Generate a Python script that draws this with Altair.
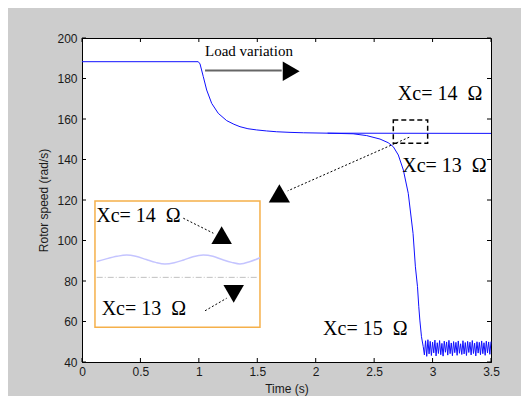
import altair as alt
import pandas as pd

# ---- data ----
t14 = [0, 0.995, 1.01, 1.038, 1.067, 1.11, 1.166, 1.238, 1.30, 1.352, 1.42, 1.495, 1.58, 1.666, 1.78, 1.894, 2.1, 3.5]
s14 = [188.3, 188.3, 187.2, 180.9, 174.3, 167.7, 162.8, 159.2, 157.4, 156.2, 155.2, 154.6, 154.1, 153.7, 153.4, 153.2, 153.0, 152.9]

t15 = [2.1, 2.32, 2.436, 2.55, 2.62, 2.664, 2.707, 2.75, 2.792, 2.833, 2.853, 2.871, 2.882, 2.891, 2.905, 2.92,
       2.93, 2.94, 2.95, 2.96, 2.97, 2.98, 2.99, 3.00, 3.01, 3.02, 3.03, 3.04, 3.05, 3.06, 3.07, 3.08, 3.09, 3.10,
       3.11, 3.12, 3.13, 3.14, 3.15, 3.16, 3.17, 3.18, 3.19, 3.20, 3.21, 3.22, 3.23, 3.24, 3.25, 3.26, 3.27, 3.28,
       3.29, 3.30, 3.31, 3.32, 3.33, 3.34, 3.35, 3.36, 3.37, 3.38, 3.39, 3.40, 3.41, 3.42, 3.43, 3.44, 3.45, 3.46,
       3.47, 3.48, 3.49, 3.50]
s15 = [153.0, 152.7, 151.8, 150.1, 148.3, 146.3, 142.2, 134.8, 123.3, 103.5, 87.0, 77.2, 67.3, 60.7, 52.5, 47.6,
       43.5, 50.5, 42.8, 51.0, 44.0, 50.2, 43.2, 49.8, 44.5, 50.8, 43.0, 49.5, 44.2, 50.6, 43.6, 49.2, 42.9, 50.3,
       44.8, 49.9, 43.4, 50.7, 44.1, 49.4, 43.1, 50.1, 44.6, 49.7, 43.3, 50.4, 44.3, 49.0, 43.7, 50.5, 44.0, 49.6,
       43.2, 50.2, 44.7, 49.8, 43.5, 50.6, 44.2, 49.3, 43.0, 50.0, 44.4, 49.7, 43.6, 50.4, 44.1, 49.5, 43.3, 50.3,
       44.5, 49.9, 43.8, 50.1]

# inset curves
t_wave = [0.126, 0.2, 0.3, 0.382, 0.46, 0.55, 0.63, 0.71, 0.79, 0.87, 0.95, 1.038, 1.12, 1.2, 1.28, 1.352, 1.44, 1.523]
s_wave = [89.6, 90.8, 92.2, 92.8, 92.2, 90.6, 89.2, 88.4, 89.0, 90.4, 92.0, 92.8, 92.2, 90.6, 89.2, 88.4, 89.6, 91.5]
t_dash = [0.126, 1.5]
s_dash = [81.8, 81.8]

x_ticks = [0, 0.5, 1, 1.5, 2, 2.5, 3, 3.5]
y_ticks = [40, 60, 80, 100, 120, 140, 160, 180, 200]

labels_txt = ["Load variation", "Xc= 14 \u00a0\u03a9", "Xc= 13 \u00a0\u03a9", "Xc= 15 \u00a0\u03a9",
              "Xc= 14 \u00a0\u03a9", "Xc= 13 \u00a0\u03a9"]
labels_t = [1.053, 2.703, 2.740, 2.063, 0.122, 0.168]
labels_s = [191.3, 169.4, 134.0, 53.3, 109.3, 63.2]
labels_size = [15, 20, 20, 20, 20, 20]

W, H = 409, 324
xs = alt.Scale(domain=[0, 3.5], nice=False, zero=False)
ys = alt.Scale(domain=[40, 200], nice=False, zero=False)

X = lambda f: alt.X(f, type="quantitative", scale=xs)
Y = lambda f: alt.Y(f, type="quantitative", scale=ys)

base_axes = alt.Chart(pd.DataFrame({"t": t14, "s": s14})).mark_line(color="#1010ff", strokeWidth=1).encode(
    x=alt.X("t:Q", scale=xs, title="Time (s)",
            axis=alt.Axis(values=x_ticks, ticks=False, tickSize=0, labelPadding=4, labelFlush=False,
                          labelOverlap=False, grid=False, titleY=26, titleBaseline="middle",
                          labelExpr="datum.value")),
    y=alt.Y("s:Q", scale=ys, title="Rotor speed (rad/s)",
            axis=alt.Axis(values=y_ticks, ticks=False, tickSize=0, labelPadding=5, labelFlush=False,
                          labelOverlap=False, grid=False, titleX=-39, titleBaseline="middle")),
)

line15 = alt.Chart(pd.DataFrame({"t": t15, "s": s15})).mark_line(color="#1010ff", strokeWidth=1).encode(
    x=X("t"), y=Y("s"))

# ticks inside the box
xt = pd.DataFrame({"t": x_ticks})
yt = pd.DataFrame({"s": y_ticks})
tick_b = alt.Chart(xt).mark_rule(color="black").encode(x=X("t"), y=alt.value(H), y2=alt.value(H - 4))
tick_t = alt.Chart(xt).mark_rule(color="black").encode(x=X("t"), y=alt.value(0), y2=alt.value(4))
tick_l = alt.Chart(yt).mark_rule(color="black").encode(y=Y("s"), x=alt.value(0), x2=alt.value(4))
tick_r = alt.Chart(yt).mark_rule(color="black").encode(y=Y("s"), x=alt.value(W), x2=alt.value(W - 4))

# dashed zoom box
box = alt.Chart(pd.DataFrame({"t": [2.664], "t2": [2.958], "s": [148.0], "s2": [159.5]})).mark_rect(
    fill=None, stroke="black", strokeWidth=1.5, strokeDash=[5, 3]).encode(
    x=X("t"), x2="t2", y=Y("s"), y2="s2")

# inset box
inset = alt.Chart(pd.DataFrame({"t": [0.111], "t2": [1.523], "s": [57.1], "s2": [119.5]})).mark_rect(
    fill="white", stroke="#f5b04a", strokeWidth=1.5).encode(
    x=X("t"), x2="t2", y=Y("s"), y2="s2")

wave = alt.Chart(pd.DataFrame({"t": t_wave, "s": s_wave})).mark_line(
    color="#c4c4ff", strokeWidth=1.5, interpolate="monotone").encode(x=X("t"), y=Y("s"))
dashl = alt.Chart(pd.DataFrame({"t": t_dash, "s": s_dash})).mark_line(
    color="#c0c0c0", strokeWidth=1, strokeDash=[6, 2, 1, 2]).encode(x=X("t"), y=Y("s"))

# arrow shafts
shafts = pd.DataFrame({
    "t": [2.80, 0.867, 1.053], "t2": [1.76, 1.124, 1.238],
    "s": [151.0, 111.0, 65.3], "s2": [124.5, 103.6, 71.5]})
shaft = alt.Chart(shafts).mark_rule(color="black", strokeWidth=1, strokeDash=[2, 2]).encode(
    x=X("t"), x2="t2", y=Y("s"), y2="s2")
load_shaft = alt.Chart(pd.DataFrame({"t": [1.053], "t2": [1.709], "s": [183.9]})).mark_rule(
    color="#666666", strokeWidth=2).encode(x=X("t"), x2="t2", y=Y("s"))

heads = pd.DataFrame({
    "t": [1.689, 1.195, 1.298, 1.79],
    "s": [123.3, 102.7, 73.6, 183.6],
    "shape": ["triangle-up", "triangle-up", "triangle-down", "triangle-right"],
    "size": [450, 420, 420, 380]})
head = alt.Chart(heads).mark_point(filled=True, color="black", opacity=1, strokeWidth=0).encode(
    x=X("t"), y=Y("s"),
    shape=alt.Shape("shape:N", scale=None),
    size=alt.Size("size:Q", scale=None))

texts = pd.DataFrame({"txt": labels_txt, "t": labels_t, "s": labels_s, "fs": labels_size})
text = alt.Chart(texts).mark_text(align="left", baseline="alphabetic", font="Liberation Serif",
                                  color="black", clip=True).encode(
    x=X("t"), y=Y("s"), text="txt:N", size=alt.Size("fs:Q", scale=None))

chart = alt.layer(
    base_axes, line15, inset, wave, dashl, box, shaft, load_shaft, head, text,
    tick_b, tick_t, tick_l, tick_r
).properties(
    width=W, height=H, background="#cdcdcd",
    padding={"left": 74, "top": 30, "right": 30, "bottom": 34},
    autosize=alt.AutoSizeParams(type="none"),
).configure_view(
    fill="white", stroke="black", strokeWidth=1
).configure_axis(
    domainColor="black", labelFont="Liberation Sans", labelFontSize=12, labelColor="#1a1a1a",
    titleFont="Liberation Sans", titleFontSize=12, titleFontWeight="normal", titleColor="#1a1a1a",
)

chart.save("out.html", embed_options={"renderer": "svg", "actions": False})
